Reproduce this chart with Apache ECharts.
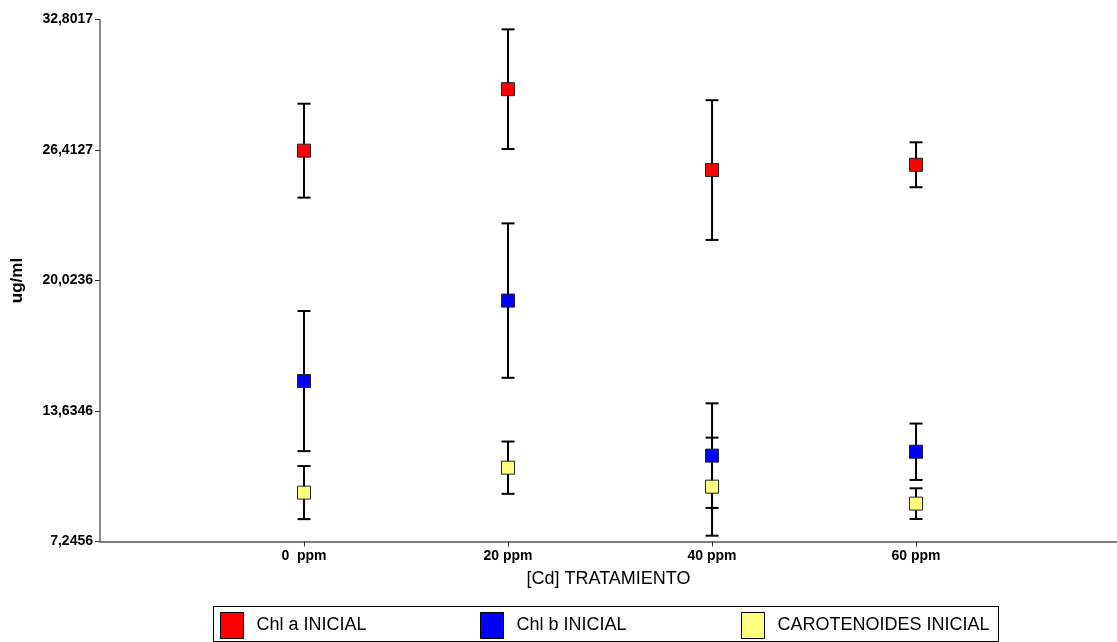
<!DOCTYPE html>
<html>
<head>
<meta charset="utf-8">
<script src="https://cdn.jsdelivr.net/npm/echarts@6/dist/echarts.min.js"></script>
<style>
html,body{margin:0;padding:0;background:#fff;}
#chart{width:1117px;height:642px;}
</style>
</head>
<body>
<div id="chart"></div>
<script>
// ---- data ----
var doses = [0, 20, 40, 60];
var doseLabels = ['0  ppm', '20 ppm', '40 ppm', '60 ppm'];
var chlA = [26.38, 29.39, 25.43, 25.69];
var chlASd = [2.30, 2.93, 3.42, 1.10];
var chlB = [15.10, 19.04, 11.45, 11.64];
var chlBSd = [3.43, 3.78, 2.56, 1.38];
var carot = [9.64, 10.86, 9.93, 9.10];
var carotSd = [1.30, 1.28, 2.40, 0.75];
var yTickValues = [7.2456, 13.6346, 20.0236, 26.4127, 32.8017];
var yTickLabels = ['7,2456', '13,6346', '20,0236', '26,4127', '32,8017'];
var seriesNames = ['Chl a INICIAL', 'Chl b INICIAL', 'CAROTENOIDES INICIAL'];

var colors = ['#ff0000', '#0000ff', '#ffff80'];
var FONT = 'Liberation Sans, Arial, sans-serif';

function pts(vals) { return doses.map(function (d, i) { return [d, vals[i]]; }); }
function errData(vals, sd) { return doses.map(function (d, i) { return [d, vals[i] - sd[i], vals[i] + sd[i]]; }); }

function errSeries(vals, sd) {
  return {
    type: 'custom',
    z: 1,
    silent: true,
    data: errData(vals, sd),
    encode: { x: 0, y: [1, 2] },
    renderItem: function (params, api) {
      var x = api.value(0);
      var lo = api.coord([x, api.value(1)]);
      var hi = api.coord([x, api.value(2)]);
      var hw = 6.5;
      var st = { stroke: '#000', lineWidth: 2 };
      return {
        type: 'group',
        children: [
          { type: 'line', shape: { x1: lo[0], y1: lo[1], x2: hi[0], y2: hi[1] }, style: st },
          { type: 'line', shape: { x1: lo[0] - hw, y1: lo[1], x2: lo[0] + hw, y2: lo[1] }, style: st },
          { type: 'line', shape: { x1: hi[0] - hw, y1: hi[1], x2: hi[0] + hw, y2: hi[1] }, style: st }
        ]
      };
    }
  };
}

function markSeries(name, vals, color) {
  return {
    type: 'scatter',
    name: name,
    z: 3,
    symbol: 'rect',
    symbolSize: 13,
    data: pts(vals),
    itemStyle: { color: color, borderColor: '#222', borderWidth: 1, opacity: 1 }
  };
}

function legendAt(name, left) {
  return {
    data: [{ name: name, icon: 'rect' }],
    left: left,
    top: 612,
    padding: 0,
    itemWidth: 23,
    itemHeight: 26,
    itemStyle: { borderColor: '#000', borderWidth: 1 },
    textStyle: { fontFamily: FONT, fontSize: 18, color: '#000', padding: [0, 0, 0, 8] },
    selectedMode: false
  };
}

var chart = echarts.init(document.getElementById('chart'), null, { renderer: 'canvas' });
chart.setOption({
  animation: false,
  backgroundColor: '#fff',
  grid: { left: 100, right: 0, top: 19.5, bottom: 100.5 },
  xAxis: {
    type: 'value',
    min: -20,
    max: 79.7,
    name: '[Cd] TRATAMIENTO',
    nameLocation: 'middle',
    nameGap: 29,
    nameTextStyle: { fontFamily: FONT, fontSize: 18, color: '#000' },
    splitLine: { show: false },
    axisLine: { onZero: false, lineStyle: { color: '#555', width: 1.5 } },
    axisTick: { show: true, length: 5, customValues: doses, lineStyle: { color: '#333' } },
    axisLabel: {
      customValues: doses,
      margin: 8,
      fontFamily: FONT, fontSize: 14, fontWeight: 'bold', color: '#000',
      formatter: function (v) {
        var i = doses.indexOf(Math.round(v));
        return i >= 0 ? doseLabels[i] : '';
      }
    }
  },
  yAxis: {
    type: 'value',
    min: yTickValues[0],
    max: yTickValues[yTickValues.length - 1],
    name: 'ug/ml',
    nameLocation: 'middle',
    nameGap: 74,
    nameRotate: 90,
    nameTextStyle: { fontFamily: FONT, fontSize: 17, fontWeight: 'bold', color: '#000' },
    splitLine: { show: false },
    axisLine: { show: true, onZero: false, lineStyle: { color: '#666', width: 1.5 } },
    axisTick: { show: true, length: 5, customValues: yTickValues, lineStyle: { color: '#333' } },
    axisLabel: {
      customValues: yTickValues,
      margin: 7,
      fontFamily: FONT, fontSize: 14, fontWeight: 'bold', color: '#000',
      formatter: function (v) {
        var best = 0, bd = Infinity;
        for (var i = 0; i < yTickValues.length; i++) {
          var d = Math.abs(yTickValues[i] - v);
          if (d < bd) { bd = d; best = i; }
        }
        return yTickLabels[best];
      }
    }
  },
  legend: [
    legendAt(seriesNames[0], 220),
    legendAt(seriesNames[1], 480),
    legendAt(seriesNames[2], 741)
  ],
  graphic: [{
    type: 'rect',
    silent: true,
    shape: { x: 213.5, y: 606.5, width: 785, height: 35 },
    style: { fill: 'none', stroke: '#000', lineWidth: 1 }
  }],
  series: [
    errSeries(chlA, chlASd),
    errSeries(chlB, chlBSd),
    errSeries(carot, carotSd),
    markSeries(seriesNames[0], chlA, colors[0]),
    markSeries(seriesNames[1], chlB, colors[1]),
    markSeries(seriesNames[2], carot, colors[2])
  ]
});
</script>
</body>
</html>
